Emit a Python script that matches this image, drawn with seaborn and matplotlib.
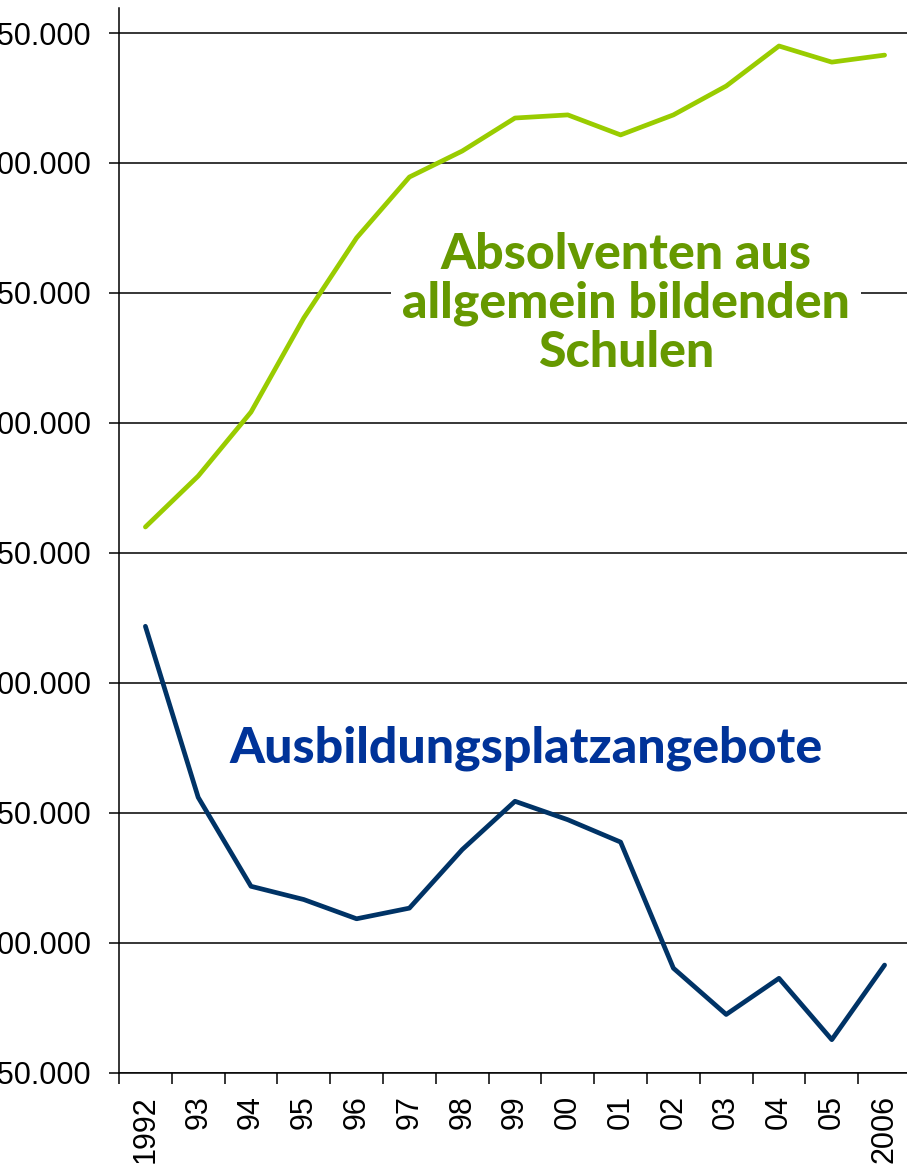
import matplotlib
matplotlib.use("Agg")
import matplotlib.pyplot as plt
import seaborn as sns
import pandas as pd
from matplotlib.ticker import FixedLocator, FuncFormatter

# Data
years = list(range(1992, 2007))
year_labels = ["1992", "93", "94", "95", "96", "97", "98", "99", "00", "01",
               "02", "03", "04", "05", "2006"]
absolventen = [760000, 779600, 804200, 840400, 871200, 894600, 904600, 917300,
               918500, 910800, 918500, 929600, 945000, 938800, 941500]
angebote = [721800, 656000, 621800, 616700, 609300, 613400, 635900, 654500,
            647400, 638800, 590300, 572500, 586400, 562800, 591500]
y_ticks = [550000, 600000, 650000, 700000, 750000, 800000, 850000, 900000, 950000]

df = pd.DataFrame({"pos": range(len(years)), "Absolventen": absolventen,
                   "Angebote": angebote})

sns.set_style("white")
plt.rcParams["font.family"] = ["Liberation Sans", "DejaVu Sans"]

fig = plt.figure(figsize=(9.07, 11.66), dpi=100)
ax = fig.add_axes([0.1312, 0.0798, 0.8732, 0.9133])

sns.lineplot(data=df, x="pos", y="Absolventen", ax=ax, color="#99CC00", linewidth=3.4)
sns.lineplot(data=df, x="pos", y="Angebote", ax=ax, color="#003366", linewidth=3.4)

ax.set_xlim(-0.5, len(years) - 0.5)
ax.set_ylim(550000, 959600)
ax.set_xlabel("")
ax.set_ylabel("")

# y axis
ax.set_yticks(y_ticks)
ax.yaxis.set_major_formatter(FuncFormatter(lambda v, p: f"{int(v):,}".replace(",", ".")))
ax.grid(axis="y", color="black", linewidth=1.1)
ax.tick_params(axis="y", direction="out", length=7, width=1.1, color="black",
               labelsize=22, labelcolor="black", pad=13, left=True)

# x axis: ticks at boundaries, labels at centres
ax.xaxis.set_major_locator(FixedLocator([i - 0.5 for i in range(len(years) + 1)]))
ax.xaxis.set_minor_locator(FixedLocator(list(range(len(years)))))
ax.set_xticklabels([], minor=False)
ax.set_xticklabels(year_labels, minor=True, rotation=90)
ax.tick_params(axis="x", which="major", direction="out", length=8, width=1.1,
               color="black", bottom=True)
ax.tick_params(axis="x", which="minor", length=0, labelsize=22, labelcolor="black", pad=16)

for s in ["top", "right"]:
    ax.spines[s].set_visible(False)
for s in ["left", "bottom"]:
    ax.spines[s].set_color("black")
    ax.spines[s].set_linewidth(1.1)
ax.set_axisbelow(True)

ax.text(9.11, 846000, "Absolventen aus\nallgemein bildenden\nSchulen", ha="center",
        va="center", fontsize=36, fontweight=900, color="#669900",
        family=["Lato", "DejaVu Sans"], linespacing=1.1,
        bbox=dict(facecolor="white", edgecolor="none", pad=8))
ax.text(7.2, 675000, "Ausbildungsplatzangebote", ha="center", va="center",
        fontsize=36, fontweight=900, color="#003399", family=["Lato", "DejaVu Sans"])

fig.savefig("out.png", dpi=100)
